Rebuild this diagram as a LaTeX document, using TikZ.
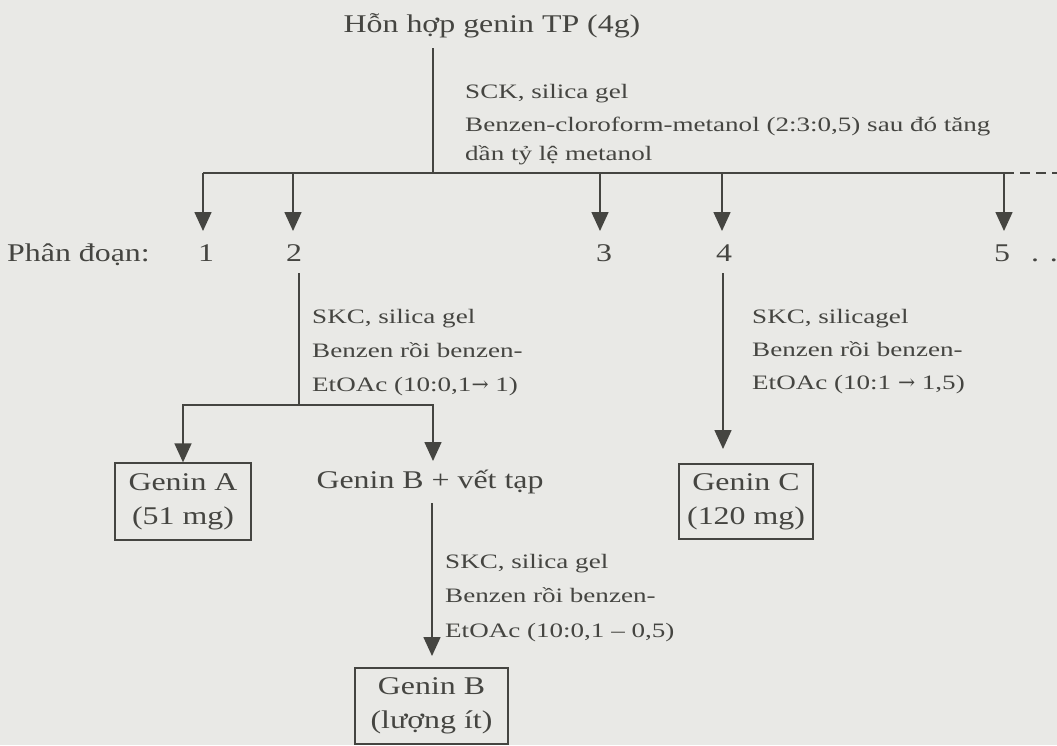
\documentclass[tikz,border=0pt]{standalone}
\usepackage{fontspec}
\setmainfont{Liberation Serif}[FakeStretch=1.25]
\newfontfamily\labfont{Liberation Serif}[FakeStretch=1.32]
\newfontfamily\arrfont{DejaVu Serif}
\usetikzlibrary{arrows.meta}
\definecolor{bg}{HTML}{E9E9E6}
\definecolor{ink}{HTML}{454541}
\newcommand{\rarr}{{\arrfont →}}
\begin{document}
\begin{tikzpicture}[x=1pt,y=-1pt,
  big/.style={font=\fontsize{25.5}{34}\selectfont, text=ink, inner sep=0pt},
  small/.style={font=\labfont\fontsize{20.5}{33}\selectfont, text=ink, inner sep=0pt, anchor=base west},
  ln/.style={draw=ink, line width=1.6pt},
  arr/.style={ln, -{Triangle[width=17pt,length=19pt]}},
  resbox/.style={big, draw=ink, line width=1.3pt, align=center, inner sep=0pt}]
\fill[bg] (0,0) rectangle (1057,745);
\useasboundingbox (0,0) rectangle (1057,745);

% title
\node[big, anchor=base] (title) at (492,32) {Hỗn hợp genin TP (4g)};
\coordinate (t0) at (433,48);
\coordinate (bus) at (433,173);
\draw[ln] (t0) -- (bus);
\node[small] (l1a) at (465,98) {SCK, silica gel};
\node[small] (l1b) at (465,131) {Benzen-cloroform-metanol (2:3:0,5) sau đó tăng};
\node[small] (l1c) at (465,160) {dần tỷ lệ metanol};

% bus
\coordinate (b1) at (203,173);
\coordinate (b2) at (293,173);
\coordinate (b3) at (600,173);
\coordinate (b4) at (722,173);
\coordinate (b5) at (1004,173);
\coordinate (bend) at (1057,173);
\draw[ln] (b1) -- (b5);
\draw[ln, dash pattern=on 10pt off 6pt] (b5) -- (bend);
\coordinate (a1) at (203,231);
\coordinate (a2) at (293,231);
\coordinate (a3) at (600,231);
\coordinate (a4) at (722,231);
\coordinate (a5) at (1004,231);
\foreach \i in {1,...,5} {\draw[arr] (b\i) -- (a\i);}

% fractions row
\node[big, anchor=base west] (pd) at (7,261) {Phân đoạn:};
\node[big, anchor=base] (n1) at (206,261) {1};
\node[big, anchor=base] (n2) at (294,261) {2};
\node[big, anchor=base] (n3) at (604,261) {3};
\node[big, anchor=base] (n4) at (724,261) {4};
\node[big, anchor=base] (n5) at (1002,261) {5};
\node[big, anchor=base west] (ndots) at (1031,261) {. .};

% branch from 2
\coordinate (c2top) at (299,273);
\coordinate (c2bot) at (299,405);
\draw[ln] (c2top) -- (c2bot);
\node[small] (l2a) at (312,323) {SKC, silica gel};
\node[small] (l2b) at (312,357) {Benzen rồi benzen-};
\node[small] (l2c) at (312,391) {EtOAc (10:0,1\rarr\ 1)};
\node[resbox, minimum width=136pt, minimum height=77pt] (genA) at (183,501.5) {Genin A\\(51 mg)};
\coordinate (tipB) at (433,461);
\draw[arr] (c2bot) -| (genA.north);
\draw[arr] (c2bot) -| (tipB);
\node[big, anchor=base] (genBv) at (430,488) {Genin B + vết tạp};

% branch from 4
\coordinate (c4top) at (723,273);
\coordinate (c4tip) at (723,449);
\draw[arr] (c4top) -- (c4tip);
\node[small] (l4a) at (752,323) {SKC, silicagel};
\node[small] (l4b) at (752,356) {Benzen rồi benzen-};
\node[small] (l4c) at (752,389) {EtOAc (10:1 \rarr\ 1,5)};
\node[resbox, minimum width=134pt, minimum height=75pt] (genC) at (746,501.5) {Genin C\\(120 mg)};

% branch from Genin B + vết tạp
\coordinate (c5top) at (432,503);
\coordinate (c5tip) at (432,656);
\draw[arr] (c5top) -- (c5tip);
\node[small] (l5a) at (445,568) {SKC, silica gel};
\node[small] (l5b) at (445,602) {Benzen rồi benzen-};
\node[small] (l5c) at (445,637) {EtOAc (10:0,1 – 0,5)};
\node[resbox, minimum width=153pt, minimum height=76pt] (genB) at (431.5,706) {Genin B\\(lượng ít)};
\end{tikzpicture}
\end{document}
